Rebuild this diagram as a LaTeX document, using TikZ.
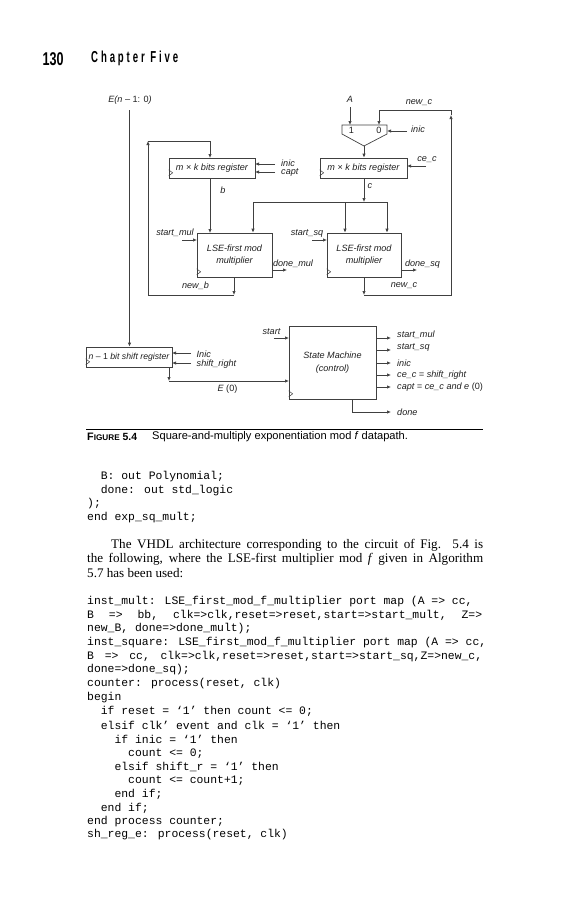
\documentclass[tikz,border=0pt]{standalone}
\usepackage{fontspec}
\usetikzlibrary{arrows.meta}
\setmainfont{Liberation Sans}
\newfontfamily\serifbody{Liberation Serif}
\newfontfamily\monobody{Liberation Mono}
\newfontfamily\headfont[LetterSpace=30]{Liberation Sans Bold}
\definecolor{ln}{gray}{0.25}
\definecolor{tx}{gray}{0.12}
\tikzset{
  x=1pt,y=-1pt,
  wire/.style={draw=ln,line width=0.7pt},
  arr/.style={wire,-{Latex[length=4pt,width=3.4pt]}},
  box/.style={draw=ln,line width=0.7pt,inner sep=0pt,minimum height=20pt,align=center,font=\fontsize{9.1}{12.4}\selectfont\itshape,text=tx},
  lbl/.style={inner sep=0pt,font=\fontsize{9.1}{10}\selectfont\itshape,text=tx},
  lblw/.style={lbl,anchor=west},
  mono/.style={inner sep=0pt,anchor=west,text=black,font=\fontsize{11.4}{13}\selectfont\monobody},
  body/.style={inner sep=0pt,anchor=west,text=black,font=\fontsize{13.1}{14}\selectfont\serifbody},
}
\newcommand{\clk}[1]{\draw[draw=ln,line width=0.5pt] ([yshift=8.5pt]#1.south west) -- ++(4,3) -- ++(-4,3);}
\newcommand{\up}[1]{{\upshape #1}}
\begin{document}
\begin{tikzpicture}
\useasboundingbox (0,0) rectangle (567,900);
% header
\node[inner sep=0pt,anchor=west] (pagenum) at (42.5,59) {\scalebox{0.68}[1]{\fontsize{18.5}{20}\selectfont\bfseries 130}};
\node[inner sep=0pt,anchor=west] (chap) at (91,58.5) {\resizebox{87pt}{11.5pt}{\fontsize{11}{12}\headfont Chapter Five}};
% boxes
\node[box,minimum width=86pt] (regb) at (212,168) {m \up{×} k bits register};
\node[box,minimum width=87pt] (regc) at (363.5,168) {m \up{×} k bits register};
\node[box,minimum width=75pt,minimum height=44pt] (mula) at (234.5,255) {LSE-first mod\\multiplier};
\node[box,minimum width=74pt,minimum height=44pt] (mulb) at (364,255) {LSE-first mod\\multiplier};
\node[box,minimum width=86pt,font=\fontsize{8.7}{11}\selectfont\itshape] (sreg) at (129,357) {n \up{– 1} bit shift register};
\node[box,minimum width=87pt,minimum height=73pt] (fsm) at (332.5,362.5) {State Machine\\(control)};
\clk{regb}\clk{regc}\clk{mula}\clk{mulb}\clk{sreg}\clk{fsm}
% mux
\coordinate (muxtl) at (342,125);\coordinate (muxtr) at (387,125);
\coordinate (muxr) at (387,134);\coordinate (muxl) at (342,134);
\coordinate (muxo) at (364,146);
\draw[wire] (muxtl)--(muxtr)--(muxr)--(muxo)--(muxl)--cycle;
\node[inner sep=0pt,font=\fontsize{9.1}{10}\selectfont,text=tx] (mone) at (351.5,130) {1};
\node[inner sep=0pt,font=\fontsize{9.1}{10}\selectfont,text=tx] (mzero) at (379,130) {0};
% top labels
\node[lbl] (een) at (130,100) {E(n \up{– 1: 0})};
\node[lbl] (la) at (350,99) {A};
\node[lbl] (lnc) at (419,103) {new\_c};
\node[lbl] (linic) at (418,129) {inic};
\node[lbl] (lce) at (427,160) {ce\_c};
\node[lblw] (linicb) at (281,163) {inic};
\node[lblw] (lcapt) at (281,172.5) {capt};
\node[lbl] (lb) at (223,190) {b};
\node[lbl] (lc) at (370,186) {c};
\node[lbl] (lsm) at (175,233) {start\_mul};
\node[lbl] (lss) at (307,233) {start\_sq};
\node[lbl] (ldm) at (293,264) {done\_mul};
\node[lbl] (lds) at (422.5,264) {done\_sq};
\node[lbl] (lnb) at (195.5,286) {new\_b};
\node[lbl] (lnc2) at (404,286) {new\_c};
\node[lblw] (lin) at (196.5,354) {Inic};
\node[lblw] (lsr) at (196.5,364) {shift\_right};
\node[lbl] (le0) at (227.5,389) {E \up{(0)}};
\node[lbl] (lst) at (271.5,332) {start};
\node[lblw] (o1) at (397,335) {start\_mul};
\node[lblw] (o2) at (397,347) {start\_sq};
\node[lblw] (o3) at (397,363) {inic};
\node[lblw] (o4) at (397,375) {ce\_c = shift\_right};
\node[lblw] (o5) at (397,387) {capt = ce\_c and e \up{(0)}};
\node[lblw] (o6) at (397,412) {done};
% free ends
\coordinate (ein) at (129.5,110);
\coordinate (ain) at (350,107);
\coordinate (fbbot) at (148,295);\coordinate (fbtop) at (148,141);
\coordinate (fbmid) at (234,295);
\coordinate (fbc) at (364,295);\coordinate (fbr) at (451,295);\coordinate (fbrt) at (451,110);
\coordinate (busn) at (364,202);\coordinate (busl) at (253,202);\coordinate (busr) at (387,202);\coordinate (busm) at (345,202);
% E line
\draw[arr] (ein) -- (ein |- sreg.north);
\draw[arr] (ain) -- (ain |- muxtl);
% feedback b
\draw[arr] (mula.south -| fbmid) -- (fbmid);
\draw[arr] (fbmid) -- (fbbot) -- (fbtop);
\draw[arr] (fbtop) -- (210,141) -- (210,158);
\draw[arr] (210,178) -- (210,233);
% c
\draw[arr] (muxo) -- (muxo |- regc.north);
\draw[arr] (regc.south -| busn) -- (busn);
\draw[wire] (busl) -- (busr);
\draw[arr] (busl) -- (busl |- mula.north);
\draw[arr] (busm) -- (busm |- mulb.north);
\draw[arr] (busr) -- (busr |- mulb.north);
% feedback c
\draw[arr] (mulb.south -| fbc) -- (fbc);
\draw[arr] (fbc) -- (fbr) -- (451,115);
\draw[arr] (451,115) -- (fbrt) -- (379,110) -- (379,125);
% small inputs
\coordinate (i1) at (407,131);\draw[arr] (i1) -- (387,131);
\coordinate (i2) at (426,166);\draw[arr] (i2) -- (407,166);
\coordinate (i3) at (275,164);\draw[arr] (i3) -- (255,164);
\coordinate (i4) at (275,172);\draw[arr] (i4) -- (255,172);
\coordinate (i5) at (182,240);\draw[arr] (i5) -- (197,240);
\coordinate (i6) at (312,240);\draw[arr] (i6) -- (327,240);
\coordinate (i7) at (287,270);\draw[arr] (272,270) -- (i7);
\coordinate (i8) at (417,270);\draw[arr] (401,270) -- (i8);
\coordinate (i9) at (191,353);\draw[arr] (i9) -- (172,353);
\coordinate (i10) at (191,363);\draw[arr] (i10) -- (172,363);
\coordinate (i11) at (274,338);\draw[arr] (i11) -- (289,338);
% E(0)
\coordinate (e0c) at (169,381);
\draw[arr] (169,367) -- (e0c);
\draw[arr] (e0c) -- (289,381);
% outputs
\foreach \yy in {338,350,363,375,387}{\draw[arr] (376,\yy) -- (391,\yy);}
\coordinate (dn) at (391,412);
\draw[arr] (352,399) -- (352,412) -- (dn);
% caption
\coordinate (ruleL) at (86,429);\coordinate (ruleR) at (483,429);
\draw[black,line width=1pt] (ruleL) -- (ruleR);
\node[inner sep=0pt,anchor=west] (figl) at (87,437) {\bfseries\fontsize{10.8}{11}\selectfont F\fontsize{8.2}{11}\selectfont IGURE\fontsize{10.4}{11}\selectfont\ 5.4};
\node[inner sep=0pt,anchor=west] (capt) at (152,437) {\fontsize{11.1}{12}\selectfont Square-and-multiply exponentiation mod \emph{f} datapath.};
% code 1
\node[mono] (c1) at (87,477) {\phantom{xx}B: out Polynomial;};
\node[mono] (c2) at (87,491) {\phantom{xx}done: out std\_logic};
\node[mono] (c3) at (87,504) {);};
\node[mono] (c4) at (87,518) {end exp\_sq\_mult;};
% paragraph
\node[body] (p1) at (111,545) {\hbox to 372pt{The VHDL architecture corresponding to the circuit of Fig. 5.4 is}};
\node[body] (p2) at (87,559) {\hbox to 396pt{the following, where the LSE-first multiplier mod \emph{f} given in Algorithm}};
\node[body] (p3) at (87,573) {5.7 has been used:};
% code 2
\node[mono] (d1) at (87,601.5) {\hbox to 393pt{inst\_mult: LSE\_first\_mod\_f\_multiplier port map (A => cc,\hss}};
\node[mono] (d2) at (87,615.2) {\hbox to 395pt{B\hfil =>\hfil bb,\hfil clk=>clk,reset=>reset,start=>start\_mult,\hfil Z=>}};
\node[mono] (d3) at (87,628.9) {new\_B, done=>done\_mult);};
\node[mono] (d4) at (87,642.6) {\hbox to 393pt{inst\_square: LSE\_first\_mod\_f\_multiplier port map (A => cc,\hss}};
\node[mono] (d5) at (87,656.3) {\hbox to 395pt{B\hfil =>\hfil cc,\hfil clk=>clk,reset=>reset,start=>start\_sq,Z=>new\_c,}};
\node[mono] (d6) at (87,670) {done=>done\_sq);};
\node[mono] (d7) at (87,683.7) {counter: process(reset, clk)};
\node[mono] (d8) at (87,697.4) {begin};
\node[mono] (d9) at (87,711.1) {\phantom{xx}if reset = ‘1’ then count <= 0;};
\node[mono] (d10) at (87,725.8) {\phantom{xx}elsif clk’ event and clk = ‘1’ then};
\node[mono] (d11) at (87,739.5) {\phantom{xxxx}if inic = ‘1’ then};
\node[mono] (d12) at (87,753.2) {\phantom{xxxxxx}count <= 0;};
\node[mono] (d13) at (87,766.9) {\phantom{xxxx}elsif shift\_r = ‘1’ then};
\node[mono] (d14) at (87,780.6) {\phantom{xxxxxx}count <= count+1;};
\node[mono] (d15) at (87,794.3) {\phantom{xxxx}end if;};
\node[mono] (d16) at (87,808) {\phantom{xx}end if;};
\node[mono] (d17) at (87,821.5) {end process counter;};
\node[mono] (d18) at (87,835) {sh\_reg\_e: process(reset, clk)};
\end{tikzpicture}
\end{document}
